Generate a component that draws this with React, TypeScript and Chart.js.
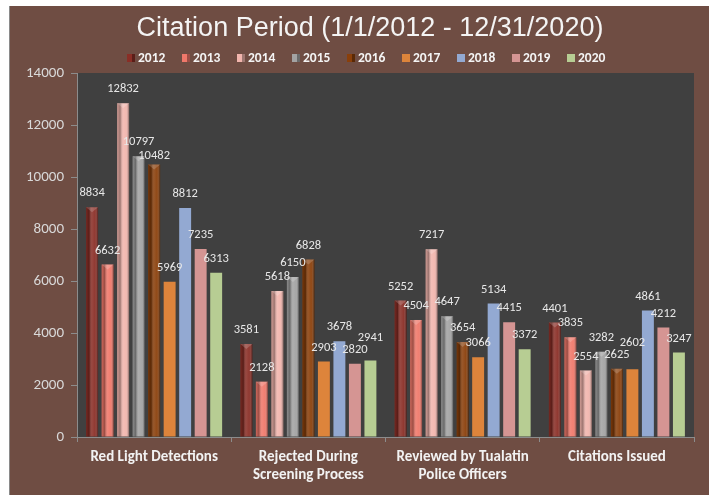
import React, { useEffect, useRef } from "react";
import { Chart, registerables } from "chart.js";

Chart.register(...registerables);

const categories: (string | string[])[] = [
  "Red Light Detections",
  ["Rejected During", "Screening Process"],
  ["Reviewed by Tualatin", "Police Officers"],
  "Citations Issued",
];
const years = ["2012", "2013", "2014", "2015", "2016", "2017", "2018", "2019", "2020"];
const v2012 = [8834, 3581, 5252, 4401];
const v2013 = [6632, 2128, 4504, 3835];
const v2014 = [12832, 5618, 7217, 2554];
const v2015 = [10797, 6150, 4647, 3282];
const v2016 = [10482, 6828, 3654, 2625];
const v2017 = [5969, 2903, 3066, 2602];
const v2018 = [8812, 3678, 5134, 4861];
const v2019 = [7235, 2820, 4415, 4212];
const v2020 = [6313, 2941, 3372, 3247];
const seriesValues = [v2012, v2013, v2014, v2015, v2016, v2017, v2018, v2019, v2020];
const seriesColors = ["#8a2e26", "#f0786a", "#f2b5ad", "#a3a3a3", "#8a3f0a", "#dd843b", "#93a9d2", "#d59593", "#b7cd93"];
const beveled = [true, true, true, true, true, false, false, false, false];
const yMin = 0;
const yMax = 14000;
const yStep = 2000;
const titleText = "Citation Period (1/1/2012 - 12/31/2020)";

const FONT = "Carlito, Lato, 'Open Sans', sans-serif";

const backgroundPlugin = {
  id: "bgPanel",
  beforeDraw(chart: any) {
    const { ctx, chartArea, width, height } = chart;
    ctx.save();
    ctx.fillStyle = "#ffffff";
    ctx.fillRect(0, 0, width, height);
    ctx.fillStyle = "#6f4d43";
    ctx.fillRect(9, 6, width - 9, height - 6);
    ctx.fillStyle = "#8a8a8a";
    ctx.fillRect(9, 6, 1, height - 6);
    ctx.fillStyle = "#404040";
    ctx.fillRect(chartArea.left, chartArea.top, chartArea.right - chartArea.left, chartArea.bottom - chartArea.top);
    ctx.restore();
  },
};

const bevelPlugin = {
  id: "bevel",
  afterDatasetsDraw(chart: any) {
    const { ctx } = chart;
    ctx.save();
    chart.data.datasets.forEach((ds: any, di: number) => {
      if (!beveled[di]) return;
      const meta = chart.getDatasetMeta(di);
      meta.data.forEach((el: any) => {
        const { x, y, base, width } = el.getProps(["x", "y", "base", "width"], true);
        const l = x - width / 2;
        const g = ctx.createLinearGradient(l, 0, l + width, 0);
        g.addColorStop(0, "rgba(0,0,0,0.15)");
        g.addColorStop(0.25, "rgba(0,0,0,0.35)");
        g.addColorStop(0.5, "rgba(255,255,255,0.12)");
        g.addColorStop(0.75, "rgba(255,255,255,0.05)");
        g.addColorStop(1, "rgba(0,0,0,0.45)");
        ctx.fillStyle = g;
        ctx.fillRect(l, y, width, base - y);
        ctx.beginPath();
        ctx.moveTo(l, y);
        ctx.lineTo(l + width, y);
        ctx.lineTo(x, y + 5);
        ctx.closePath();
        ctx.fillStyle = "rgba(255,255,255,0.18)";
        ctx.fill();
      });
    });
    ctx.restore();
  },
};

const labelsPlugin = {
  id: "valueLabels",
  afterDatasetsDraw(chart: any) {
    const { ctx } = chart;
    ctx.save();
    ctx.font = `12.5px ${FONT}`;
    ctx.fillStyle = "#e8e8e8";
    ctx.textAlign = "center";
    ctx.textBaseline = "middle";
    const h = 11.5;
    const nCat = chart.data.labels.length;
    for (let c = 0; c < nCat; c++) {
      const placed: { x: number; y: number; w: number }[] = [];
      chart.data.datasets.forEach((ds: any, di: number) => {
        const el: any = chart.getDatasetMeta(di).data[c];
        const { x, y } = el.getProps(["x", "y"], true);
        const text = String(ds.data[c]);
        const w = ctx.measureText(text).width;
        const hitAt = (yy: number) =>
          placed.find((b) => Math.abs(b.x - x) < (b.w + w) / 2 && Math.abs(b.y - yy) < h);
        let ly = y - 14;
        const hit = hitAt(ly);
        if (hit) {
          const down = hit.y + h + 2;
          if (ly > hit.y && down + h / 2 < y - 0.5 && !hitAt(down)) {
            ly = down;
          } else {
            let guard = 0;
            let cur = hitAt(ly);
            while (cur && guard < 20) {
              ly = cur.y - h - 0.5;
              cur = hitAt(ly);
              guard++;
            }
          }
        }
        placed.push({ x, y: ly, w });
        ctx.fillText(text, x, ly);
      });
    }
    ctx.restore();
  },
};

const headerPlugin = {
  id: "header",
  afterDraw(chart: any) {
    const { ctx } = chart;
    ctx.save();
    ctx.fillStyle = "#f4f4f4";
    ctx.textAlign = "center";
    ctx.textBaseline = "middle";
    ctx.font = "27px 'Liberation Sans Narrow', 'Arial Narrow', 'Liberation Sans', sans-serif";
    ctx.fillText(titleText, 370, 29);
    ctx.font = `bold 13.5px ${FONT}`;
    ctx.textAlign = "left";
    const startX = 127;
    const pitch = 55;
    const ly = 58;
    years.forEach((yr, i) => {
      const mx = startX + i * pitch;
      ctx.fillStyle = seriesColors[i];
      ctx.fillRect(mx, ly - 4, 8, 8);
      if (beveled[i]) {
        ctx.fillStyle = "rgba(0,0,0,0.35)";
        ctx.fillRect(mx + 5, ly - 4, 3, 8);
      }
      ctx.fillStyle = "#f4f4f4";
      ctx.fillText(yr, mx + 11, ly + 1);
    });
    ctx.restore();
  },
};

export default function App() {
  const ref = useRef<HTMLCanvasElement | null>(null);
  useEffect(() => {
    if (!ref.current) return;
    const chart = new Chart(ref.current, {
      type: "bar",
      data: {
        labels: categories as any,
        datasets: years.map((yr, i) => ({
          label: yr,
          data: seriesValues[i],
          backgroundColor: seriesColors[i],
          borderWidth: 0,
          barPercentage: 0.77,
          categoryPercentage: 0.905,
        })),
      },
      options: {
        responsive: false,
        devicePixelRatio: 1,
        animation: false,
        layout: { padding: { left: 10, top: 73, right: 15, bottom: 0 } },
        plugins: {
          legend: { display: false },
          title: { display: false },
          tooltip: { enabled: false },
        },
        scales: {
          x: {
            grid: { display: true, drawOnChartArea: false, drawTicks: true, tickLength: 5, color: "#8c8c8c", offset: true },
            border: { color: "#8c8c8c", width: 1 },
            ticks: {
              color: "#f2f2f2",
              font: { family: FONT, size: 15, weight: "bold", lineHeight: 1.2 },
              padding: 6,
              maxRotation: 0,
              autoSkip: false,
            },
            afterFit: (s: any) => {
              s.height = 58;
            },
          },
          y: {
            min: yMin,
            max: yMax,
            ticks: {
              stepSize: yStep,
              color: "#d9d9d9",
              font: { family: FONT, size: 15 },
              padding: 7,
              callback: (v: any) => String(v),
            },
            grid: { display: true, drawOnChartArea: false, drawTicks: true, tickLength: 6, color: "#8c8c8c" },
            border: { color: "#8c8c8c", width: 1 },
            afterFit: (s: any) => {
              s.width = 67;
            },
          },
        },
      },
      plugins: [backgroundPlugin, bevelPlugin, labelsPlugin, headerPlugin],
    } as any);
    return () => chart.destroy();
  }, []);
  return (
    <div style={{ position: "fixed", left: 0, top: 0, width: 709, height: 495, background: "#fff" }}>
      <canvas ref={ref} width={709} height={495} style={{ display: "block", width: 709, height: 495 }} />
    </div>
  );
}
